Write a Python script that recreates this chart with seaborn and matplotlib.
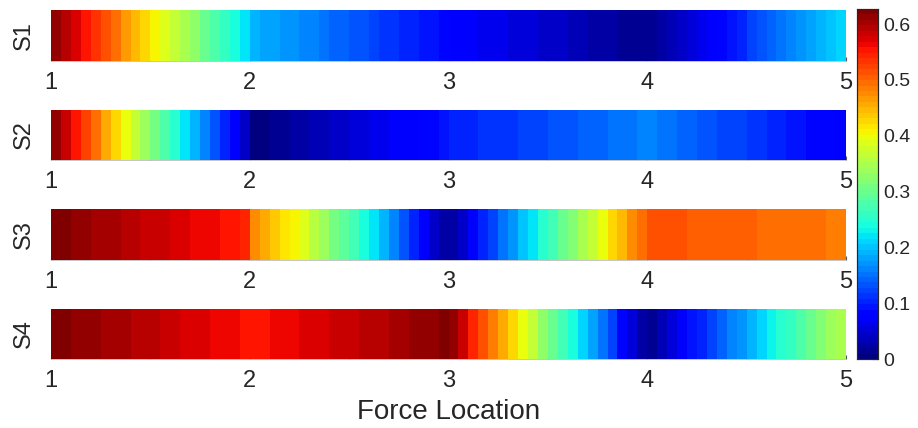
import numpy as np
import pandas as pd
import matplotlib
matplotlib.use("Agg")
import matplotlib.pyplot as plt
import seaborn as sns

# ---- data (values read at 0.05-wide cells between force locations 1 and 5) ----
strip_names = ["S1", "S2", "S3", "S4"]
locations = [1, 2, 3, 4, 5]
cbar_ticks = [0, 0.1, 0.2, 0.3, 0.4, 0.5, 0.6]
cbar_labels = ["0", "0.1", "0.2", "0.3", "0.4", "0.5", "0.6"]
vmax_value = 0.627

s1_values = [0.615, 0.594, 0.573, 0.552, 0.532, 0.511, 0.490, 0.469, 0.449, 0.428,
             0.407, 0.386, 0.366, 0.345, 0.324, 0.303, 0.283, 0.262, 0.241, 0.220,
             0.192, 0.186, 0.181, 0.175, 0.169, 0.163, 0.158, 0.152, 0.146, 0.140,
             0.135, 0.129, 0.123, 0.117, 0.112, 0.106, 0.100, 0.094, 0.089, 0.083,
             0.078, 0.075, 0.071, 0.068, 0.064, 0.061, 0.057, 0.054, 0.050, 0.047,
             0.043, 0.040, 0.036, 0.033, 0.029, 0.026, 0.022, 0.019, 0.015, 0.012,
             0.015, 0.025, 0.036, 0.046, 0.056, 0.066, 0.077, 0.087, 0.097, 0.107,
             0.118, 0.128, 0.138, 0.148, 0.159, 0.169, 0.179, 0.189, 0.200, 0.210]

s2_values = [0.610, 0.580, 0.550, 0.520, 0.490, 0.460, 0.430, 0.400, 0.370, 0.340,
             0.310, 0.280, 0.250, 0.220, 0.190, 0.160, 0.130, 0.100, 0.070, 0.040,
             0.002, 0.007, 0.012, 0.017, 0.021, 0.026, 0.031, 0.036, 0.040, 0.045,
             0.050, 0.055, 0.059, 0.064, 0.069, 0.074, 0.078, 0.083, 0.088, 0.093,
             0.099, 0.102, 0.105, 0.108, 0.111, 0.114, 0.117, 0.121, 0.124, 0.127,
             0.130, 0.133, 0.136, 0.140, 0.143, 0.146, 0.149, 0.152, 0.155, 0.158,
             0.158, 0.153, 0.149, 0.145, 0.140, 0.136, 0.132, 0.127, 0.123, 0.119,
             0.114, 0.110, 0.106, 0.101, 0.097, 0.093, 0.088, 0.084, 0.080, 0.075]

s3_values = [0.623, 0.619, 0.615, 0.611, 0.607, 0.603, 0.599, 0.595, 0.591, 0.587,
             0.583, 0.579, 0.575, 0.571, 0.567, 0.563, 0.559, 0.555, 0.551, 0.547,
             0.471, 0.454, 0.437, 0.419, 0.402, 0.383, 0.359, 0.336, 0.312, 0.289,
             0.265, 0.242, 0.216, 0.188, 0.160, 0.132, 0.104, 0.076, 0.046, 0.020,
             0.022, 0.048, 0.072, 0.098, 0.122, 0.148, 0.172, 0.198, 0.222, 0.248,
             0.272, 0.298, 0.322, 0.348, 0.372, 0.398, 0.422, 0.448, 0.472, 0.498,
             0.515, 0.514, 0.512, 0.511, 0.509, 0.508, 0.506, 0.505, 0.503, 0.502,
             0.500, 0.499, 0.497, 0.496, 0.494, 0.493, 0.491, 0.490, 0.488, 0.487]

s4_values = [0.623, 0.620, 0.616, 0.613, 0.609, 0.606, 0.602, 0.599, 0.595, 0.592,
             0.588, 0.585, 0.581, 0.578, 0.574, 0.571, 0.567, 0.564, 0.560, 0.557,
             0.552, 0.555, 0.559, 0.562, 0.566, 0.569, 0.573, 0.576, 0.580, 0.583,
             0.587, 0.590, 0.594, 0.597, 0.601, 0.604, 0.608, 0.611, 0.615, 0.618,
             0.610, 0.579, 0.548, 0.517, 0.487, 0.456, 0.425, 0.394, 0.364, 0.333,
             0.302, 0.271, 0.241, 0.210, 0.179, 0.148, 0.118, 0.087, 0.056, 0.025,
             0.019, 0.036, 0.054, 0.071, 0.089, 0.106, 0.124, 0.141, 0.159, 0.176,
             0.194, 0.211, 0.229, 0.246, 0.264, 0.281, 0.299, 0.316, 0.334, 0.351]

strip_values = [s1_values, s2_values, s3_values, s4_values]

# ---- style ----
sns.set_theme(style="white")
plt.rcParams["font.family"] = ["Liberation Sans", "DejaVu Sans"]
text_color = "#262626"

cmap = matplotlib.colormaps["jet"].resampled(64)

W, H = 918, 428
fig = plt.figure(figsize=(W / 100, H / 100), dpi=100)

left_px, right_px = 51, 846
strip_px = [(10, 61), (110, 160), (209, 260), (309, 359)]
cells_per_unit = 20

cax = fig.add_axes([857 / W, 1 - 359 / H, 21 / W, 350 / H])

axes = []
for i, (name, vals) in enumerate(zip(strip_names, strip_values)):
    top, bot = strip_px[i]
    ax = fig.add_axes([left_px / W, 1 - bot / H, (right_px - left_px) / W, (bot - top) / H])
    axes.append(ax)
    n = len(vals)
    mids = [locations[0] + (k + 0.5) / cells_per_unit for k in range(n)]
    df = pd.DataFrame([vals], index=[name], columns=np.round(mids, 3))
    sns.heatmap(df, ax=ax, cmap=cmap, vmin=0, vmax=vmax_value,
                xticklabels=False, yticklabels=False,
                cbar=(i == 0), cbar_ax=cax if i == 0 else None)
    major = [(l - locations[0]) * cells_per_unit for l in locations]
    ax.set_xticks(major)
    ax.set_xticklabels([str(l) for l in locations], fontsize=17, color=text_color)
    minor = [(l + 0.5 - locations[0]) * cells_per_unit for l in locations[:-1]]
    ax.set_xticks(minor, minor=True)
    ax.tick_params(axis="x", which="both", direction="in", length=3, width=0.8,
                   color="#555555", pad=8, bottom=True)
    ax.set_yticks([])
    ax.set_ylabel(name, fontsize=17, color=text_color)
    ax.yaxis.set_label_coords(-0.02, 0.5)
    ax.set_xlabel("")
    ax.spines["bottom"].set_visible(True)
    ax.spines["bottom"].set_color("#bbbbbb")
    ax.spines["bottom"].set_linewidth(0.6)

axes[-1].set_xlabel("Force Location", fontsize=20, color=text_color, labelpad=5)

cax.set_yticks(cbar_ticks)
cax.set_yticklabels(cbar_labels, fontsize=14, color=text_color)
cax.tick_params(axis="y", direction="in", length=4, width=0.8, color=text_color, pad=4)
for sp in cax.spines.values():
    sp.set_visible(True)
    sp.set_color(text_color)
    sp.set_linewidth(0.8)

fig.savefig("out.png", dpi=100)
